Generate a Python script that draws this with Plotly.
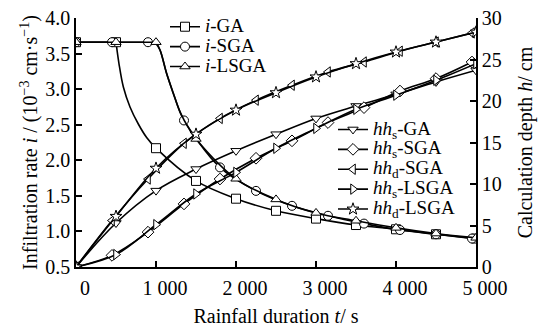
import plotly.graph_objects as go

# ---------------- data ----------------
x_tickvals = [0, 1000, 2000, 3000, 4000, 5000]
x_ticktext = ["0", "1 000", "2 000", "3 000", "4 000", "5 000"]

# marker positions (rainfall duration, s)
t_ga = [0, 500, 1000, 1500, 2000, 2500, 3000, 3500, 4000, 4500, 5000]
t_sga = [0, 450, 900, 1350, 1800, 2250, 2700, 3150, 3600, 4050, 4500, 4950]
t_lsga = [0, 500, 1000, 1500, 2000, 2500, 3000, 3500, 4000, 4500, 5000]

# infiltration rate i (10^-3 cm/s) at markers
i_ga = [3.66, 3.66, 2.17, 1.71, 1.46, 1.29, 1.18, 1.09, 1.03, 0.96, 0.90]
i_sga = [3.66, 3.66, 3.66, 2.56, 1.90, 1.57, 1.36, 1.22, 1.11, 1.02, 0.96, 0.90]
i_lsga = [3.66, 3.66, 3.66, 2.30, 1.74, 1.45, 1.26, 1.15, 1.05, 0.97, 0.91]

# infiltration curves (line path, including the knee after ponding)
t_ga_curve = [0, 500, 537, 592, 675, 779, 883, 1000, 1500, 2000, 2500, 3000, 3500, 4000, 4500, 5000]
i_ga_curve = [3.66, 3.66, 3.36, 3.03, 2.75, 2.51, 2.32, 2.17, 1.71, 1.46, 1.29, 1.18, 1.09, 1.03, 0.96, 0.90]
t_sga_curve = [0, 450, 900, 988, 1050, 1133, 1217, 1300, 1350, 1800, 2250, 2700, 3150, 3600, 4050, 4500, 4950]
i_sga_curve = [3.66, 3.66, 3.66, 3.66, 3.55, 3.22, 2.94, 2.68, 2.56, 1.90, 1.57, 1.36, 1.22, 1.11, 1.02, 0.96, 0.90]
t_lsga_curve = [0, 500, 1000, 1050, 1133, 1217, 1300, 1425, 1500, 2000, 2500, 3000, 3500, 4000, 4500, 5000]
i_lsga_curve = [3.66, 3.66, 3.66, 3.55, 3.22, 2.94, 2.68, 2.42, 2.30, 1.74, 1.45, 1.26, 1.15, 1.05, 0.97, 0.91]

# calculation depth h (cm)
hs_ga = [0, 5.3, 9.2, 11.8, 14.0, 16.0, 17.9, 19.4, 20.8, 22.3, 23.7]
hs_sga = [0, 1.4, 4.2, 7.6, 10.6, 13.1, 15.2, 17.4, 19.2, 21.2, 22.7, 24.7]
hd_sga = [0, 5.6, 10.6, 14.9, 17.9, 20.1, 21.9, 23.5, 24.7, 26.0, 27.1, 28.2]
hs_lsga = [0, 1.5, 5.1, 8.8, 11.4, 14.3, 16.7, 19.0, 20.7, 22.5, 24.5]
hd_lsga = [0, 6.1, 11.9, 16.0, 18.9, 21.0, 22.9, 24.5, 25.9, 27.1, 28.3]

# ---------------- styling ----------------
FONT = "Liberation Serif, Times New Roman, serif"
LW = 1.6
MS = 9


def leg(name):
    return '<span style="font-size:19px">' + name + '</span>'


fig = go.Figure()


def add_i_series(tc, vc, tm, vm, symbol, name):
    plateau = vc[0]
    k = max(j for j, v in enumerate(vc) if v == plateau)
    fig.add_trace(go.Scatter(x=tc[:k + 1], y=vc[:k + 1], mode="lines",
                             line=dict(color="black", width=LW),
                             showlegend=False, hoverinfo="skip"))
    fig.add_trace(go.Scatter(x=tc[k:], y=vc[k:], mode="lines",
                             line=dict(color="black", width=LW, shape="spline", smoothing=1.0),
                             showlegend=False, hoverinfo="skip"))
    fig.add_trace(go.Scatter(x=tm, y=vm, mode="markers",
                             marker=dict(symbol=symbol, size=MS, color="white",
                                         line=dict(color="black", width=1)),
                             showlegend=False))
    fig.add_trace(go.Scatter(x=[None], y=[None], mode="lines+markers", name=leg(name),
                             line=dict(color="black", width=LW),
                             marker=dict(symbol=symbol, size=MS, color="white",
                                         line=dict(color="black", width=1)),
                             legend="legend"))


def add_h_series(tm, vm, symbol, name):
    fig.add_trace(go.Scatter(x=tm, y=vm, mode="lines", yaxis="y2",
                             line=dict(color="black", width=LW, shape="spline", smoothing=1.0),
                             showlegend=False, hoverinfo="skip"))
    fig.add_trace(go.Scatter(x=tm, y=vm, mode="markers", yaxis="y2",
                             marker=dict(symbol=symbol, size=MS, color="white",
                                         line=dict(color="black", width=1)),
                             showlegend=False))
    fig.add_trace(go.Scatter(x=[None], y=[None], mode="lines+markers", name=leg(name), yaxis="y2",
                             line=dict(color="black", width=LW),
                             marker=dict(symbol=symbol, size=MS, color="white",
                                         line=dict(color="black", width=1)),
                             legend="legend2"))


add_i_series(t_ga_curve, i_ga_curve, t_ga, i_ga, "square", "<i>i</i>-GA")
add_i_series(t_sga_curve, i_sga_curve, t_sga, i_sga, "circle", "<i>i</i>-SGA")
add_i_series(t_lsga_curve, i_lsga_curve, t_lsga, i_lsga, "triangle-up", "<i>i</i>-LSGA")

add_h_series(t_ga, hs_ga, "triangle-down", "<i>hh</i><sub>s</sub>-GA")
add_h_series(t_sga, hs_sga, "diamond", "<i>hh</i><sub>s</sub>-SGA")
add_h_series(t_sga, hd_sga, "triangle-left", "<i>hh</i><sub>d</sub>-SGA")
add_h_series(t_lsga, hs_lsga, "triangle-right", "<i>hh</i><sub>s</sub>-LSGA")
add_h_series(t_lsga, hd_lsga, "star", "<i>hh</i><sub>d</sub>-LSGA")

axis_common = dict(showline=True, linecolor="black", linewidth=1.5,
                   ticks="inside", ticklen=6, tickwidth=1.5, tickcolor="black",
                   showgrid=False, zeroline=False, automargin=False,
                   tickfont=dict(family=FONT, size=20, color="black"))

fig.update_layout(
    width=543, height=327,
    margin=dict(l=76, r=67, t=18, b=60),
    paper_bgcolor="white", plot_bgcolor="white",
    font=dict(family=FONT, size=20, color="black"),
    xaxis=dict(range=[0, 5000], tickvals=x_tickvals, ticktext=x_ticktext,
               ticklabelshift=9, ticklabelstandoff=2,
               title=dict(text="Rainfall duration <i>t</i>/ s", font=dict(family=FONT, size=20)),
               **axis_common),
    yaxis=dict(range=[0.5, 4.0], dtick=0.5, tickformat=".1f",
               title=dict(text="Infiltration rate <i>i</i> / (10<sup>\u22123</sup> cm\u00b7s<sup>\u22121</sup>)",
                          font=dict(family=FONT, size=20), standoff=2),
               **axis_common),
    yaxis2=dict(range=[0, 30], dtick=5, overlaying="y", side="right",
                title=dict(text="Calculation depth <i>h</i>/ cm", font=dict(family=FONT, size=20), standoff=17),
                **axis_common),
    legend=dict(x=0.2225, y=1.025, xanchor="left", yanchor="top",
                bgcolor="rgba(0,0,0,0)", borderwidth=0,
                font=dict(family=FONT, size=13, color="black"), itemwidth=30),
    legend2=dict(x=0.6425, y=0.6125, xanchor="left", yanchor="top",
                 bgcolor="rgba(0,0,0,0)", borderwidth=0,
                 font=dict(family=FONT, size=13, color="black"), itemwidth=30),
)

fig.write_html("out.html")
